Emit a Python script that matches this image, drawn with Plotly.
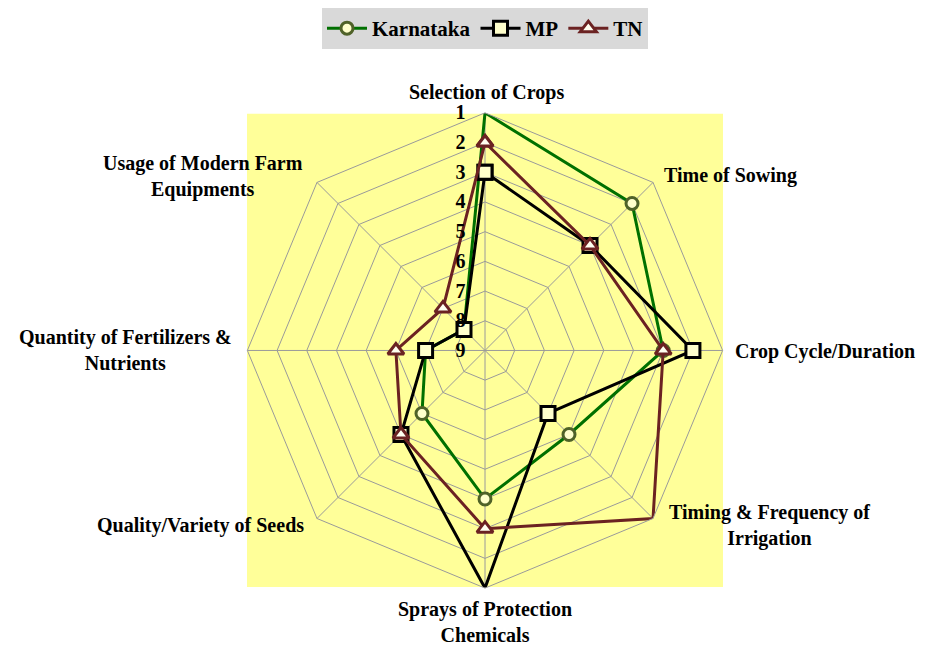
import plotly.graph_objects as go

# ---- data ----
categories = [
    "Selection of Crops",
    "Time of Sowing",
    "Crop Cycle/Duration",
    "Timing & Frequency of Irrigation",
    "Sprays of Protection Chemicals",
    "Quality/Variety of Seeds",
    "Quantity of Fertilizers & Nutrients",
    "Usage of Modern Farm Equipments",
]
karnataka = [1, 2, 3, 5, 4, 6, 7, 8]
mp = [3, 4, 2, 6, 1, 5, 7, 8]
tn = [2, 4, 3, 1, 3, 5, 6, 7]
rank_ticks = [1, 2, 3, 4, 5, 6, 7, 8, 9]

# label display text (line breaks as in the original)
label_text = [
    "Selection of Crops",
    "Time of Sowing",
    "Crop Cycle/Duration",
    "Timing & Frequency of<br>Irrigation",
    "Sprays of Protection<br>Chemicals",
    "Quality/Variety of Seeds",
    "Quantity of Fertilizers &<br>Nutrients",
    "Usage of Modern Farm<br>Equipments",
]

OFF = 8  # page body margin
W, H = 927 - OFF, 646 - OFF
FONT = "Liberation Serif"


def px(x):
    return (x - OFF) / W


def py(y):
    return 1 - (y - OFF) / H


def closed(v):
    return list(v) + [v[0]]


theta = closed(categories)

fig = go.Figure()
fig.add_trace(go.Scatterpolar(
    r=closed(karnataka), theta=theta, name="Karnataka", mode="lines+markers",
    line=dict(color="#007000", width=3),
    marker=dict(symbol="circle", size=12, color="#ffffcc",
                line=dict(color="#4f6228", width=3)),
))
fig.add_trace(go.Scatterpolar(
    r=closed(mp), theta=theta, name="MP", mode="lines+markers",
    line=dict(color="#000000", width=3),
    marker=dict(symbol="square", size=14, color="#ffffcc",
                line=dict(color="#000000", width=3)),
))
fig.add_trace(go.Scatterpolar(
    r=closed(tn), theta=theta, name="TN", mode="lines+markers",
    line=dict(color="#6b2222", width=3),
    marker=dict(symbol="triangle-up", size=14, color="#fffff0",
                line=dict(color="#6b2222", width=3)),
))

# category labels as annotations (placed like the original)
label_pos = [
    (486, 92, "center"),
    (662, 175, "left"),
    (733, 351, "left"),
    (769, 525, "center"),
    (485, 622, "center"),
    (200, 525, "center"),
    (125, 350, "center"),
    (203, 176, "center"),
]
annotations = []
for txt, (x, y, al) in zip(label_text, label_pos):
    annotations.append(dict(
        x=px(x), y=py(y), xref="paper", yref="paper", text=txt,
        showarrow=False, xanchor=al, yanchor="middle", align="center",
        font=dict(family=FONT, size=20, color="#000000", weight="bold"),
    ))

fig.update_layout(
    width=W, height=H,
    margin=dict(l=0, r=0, t=0, b=0),
    paper_bgcolor="white",
    showlegend=True,
    legend=dict(
        orientation="h", x=px(485), xanchor="center", y=py(7), yanchor="top",
        bgcolor="#d9d9d9", font=dict(family=FONT, size=21, color="#000000", weight="bold"),
        itemwidth=40,
    ),
    shapes=[dict(type="rect", xref="paper", yref="paper", layer="below",
                 x0=px(247), x1=px(723), y0=py(587), y1=py(113),
                 fillcolor="#ffff99", line=dict(width=0))],
    annotations=annotations,
    polar=dict(
        domain=dict(x=[px(247), px(723)], y=[py(588), py(112)]),
        bgcolor="rgba(0,0,0,0)",
        gridshape="linear",
        angularaxis=dict(
            rotation=90, direction="clockwise",
            showticklabels=False, ticks="",
            gridcolor="#9a9a9a", gridwidth=1,
            linecolor="#9a9a9a", linewidth=1, showline=True,
        ),
        radialaxis=dict(
            range=[9, 1], angle=90, side="counterclockwise",
            tickvals=rank_ticks, ticks="outside", ticklen=12,
            tickcolor="rgba(0,0,0,0)", showline=False,
            gridcolor="#9a9a9a", gridwidth=1, tickangle=90,
            tickfont=dict(family=FONT, size=20, color="#000000", weight="bold"),
        ),
    ),
)

fig.write_html("out.html")
